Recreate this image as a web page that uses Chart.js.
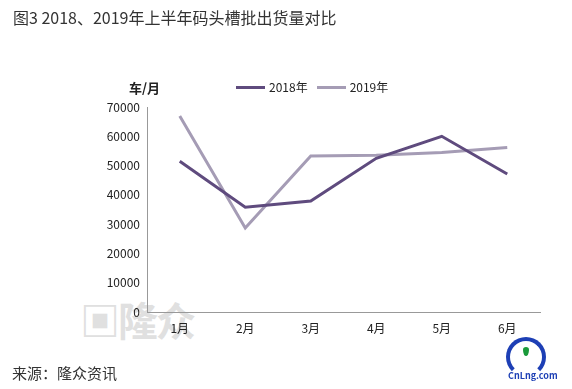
<!DOCTYPE html>
<html>
<head>
<meta charset="utf-8">
<script src="https://cdn.jsdelivr.net/npm/chart.js@4"></script>
<style>
  body { margin: 0; background: #fff; font-family: "Noto Sans CJK SC", "Noto Sans", sans-serif; }
  #wrap { position: relative; width: 572px; height: 389px; overflow: hidden; }
  #title { position: absolute; left: 13px; top: 5px; font-size: 16px; color: #333; white-space: nowrap; }
  #unit { position: absolute; left: 129px; top: 78px; font-size: 13px; font-weight: bold; color: #222; }
  #legend { position: absolute; left: 236px; top: 78px; font-size: 12px; color: #222; white-space: nowrap; }
  #legend span.item { display: inline-block; margin-right: 9px; }
  #legend i { display: inline-block; width: 29px; height: 3px; vertical-align: middle; margin-right: 4px; position: relative; top: -1px; }
  #source { position: absolute; left: 12px; top: 362px; font-size: 15px; color: #333; }
  #mark { position: absolute; left: 80px; top: 290px; font-size: 40px; font-weight: bold; color: #e0e0e0; letter-spacing: -2px; }
  #logo { position: absolute; left: 506px; top: 335px; width: 50px; height: 50px; }
  #logo .ring { position: absolute; left: 0; top: 2px; width: 40px; height: 40px; border: 4px solid #1d3fb5; border-bottom-color: transparent; border-radius: 50%; box-sizing: border-box; }
  #logo .drop { position: absolute; left: 17px; top: 12px; width: 6px; height: 9px; background: #1a9a3a; border-radius: 50% 50% 50% 50% / 30% 30% 70% 70%; }
  #logo .txt { position: absolute; left: 2px; top: 34px; font-size: 9px; font-weight: bold; color: #1d3fb5; }
  canvas { position: absolute; left: 0; top: 0; }
</style>
</head>
<body>
<div id="wrap">
  <div id="mark">▣隆众</div>
  <canvas id="lineChart" width="572" height="389"></canvas>
  <div id="title">图3 2018、2019年上半年码头槽批出货量对比</div>
  <div id="unit">车/月</div>
  <div id="legend"></div>
  <div id="source">来源：隆众资讯</div>
  <div id="logo"><div class="ring"></div><div class="drop"></div><div class="txt">CnLng.com</div></div>
</div>
<script>
// data
var months = ['1月', '2月', '3月', '4月', '5月', '6月'];
var seriesNames = ['2018年', '2019年'];
var values2018 = [51500, 35800, 37900, 52500, 60000, 47100];
var values2019 = [66900, 28700, 53300, 53500, 54500, 56200];
var colors = ['#5f4b7e', '#a59cb5'];

// legend (html)
var legend = document.getElementById('legend');
seriesNames.forEach(function (name, i) {
    var item = document.createElement('span');
    item.className = 'item';
    item.innerHTML = '<i style="background:' + colors[i] + '"></i>' + name;
    legend.appendChild(item);
});

var ctx = document.getElementById('lineChart').getContext('2d');
var tickFont = { family: '"Noto Sans CJK SC", "Noto Sans", sans-serif', size: 12 };

new Chart(ctx, {
    type: 'line',
    data: {
        labels: months,
        datasets: [
            { label: seriesNames[0], data: values2018, borderColor: colors[0], backgroundColor: colors[0], borderWidth: 3, pointRadius: 0, tension: 0 },
            { label: seriesNames[1], data: values2019, borderColor: colors[1], backgroundColor: colors[1], borderWidth: 3, pointRadius: 0, tension: 0 }
        ]
    },
    options: {
        responsive: false,
        animation: false,
        layout: { padding: { left: 0, right: 32, top: 107, bottom: 0 } },
        plugins: { legend: { display: false }, tooltip: { enabled: false } },
        scales: {
            x: {
                offset: true,
                grid: { display: false, drawTicks: false },
                border: { color: '#999', width: 1 },
                ticks: { color: '#222', font: tickFont, padding: 9 },
                afterFit: function (scale) { scale.height = 77; }
            },
            y: {
                min: 0,
                max: 70000,
                grid: { display: false, drawTicks: false },
                border: { color: '#999', width: 1 },
                ticks: {
                    stepSize: 10000, color: '#222', font: tickFont, padding: 7,
                    callback: function (v) { return String(v); }
                },
                afterFit: function (scale) { scale.width = 147; }
            }
        }
    }
});
</script>
</body>
</html>
